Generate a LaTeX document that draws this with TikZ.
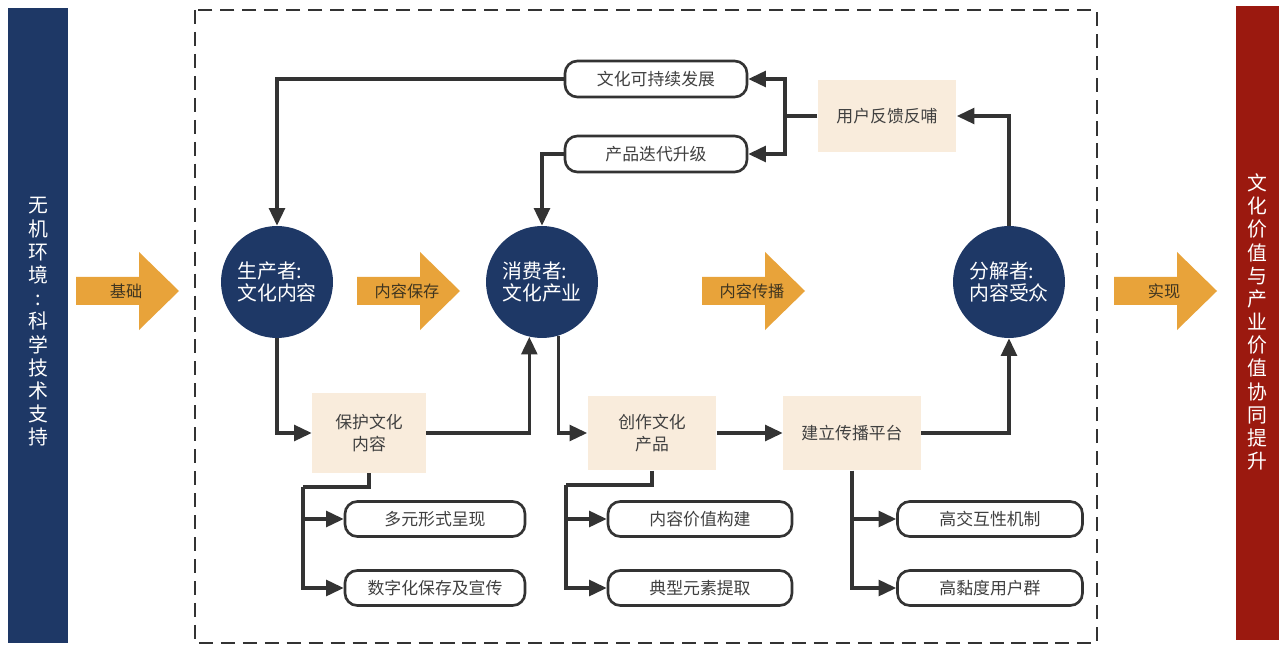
\documentclass[tikz,border=0pt]{standalone}
\usepackage{fontspec}
\setmainfont{Noto Sans CJK SC}
\usetikzlibrary{arrows.meta}
\definecolor{navy}{HTML}{1E3866}
\definecolor{darkred}{HTML}{9B190F}
\definecolor{orangec}{HTML}{E8A33A}
\definecolor{beigec}{HTML}{F9ECDC}
\definecolor{linec}{HTML}{333333}
\definecolor{textc}{HTML}{404040}
\definecolor{arrowtext}{HTML}{3F3520}
\newcommand\bigarr[3]{%
  \fill[orangec] (#1,277) -- ({#1+63},277) -- ({#1+63},252) -- ({#1+103},291) -- ({#1+63},330) -- ({#1+63},305) -- (#1,305) -- cycle;
  \node[flowtext] (#2) at ({#1+50},291) {#3};}
\begin{document}
\begin{tikzpicture}[x=0.02cm,y=-0.02cm,
  conn/.style={draw=linec, line width=1.8pt},
  arr/.style={conn, -{Triangle[length=10pt,width=9pt]}},
  pill/.style={draw=linec, line width=1.5pt, rounded corners=7pt, fill=white, text=textc,
    font=\fontsize{9.6pt}{12pt}\selectfont, inner sep=0pt, minimum height=0.7cm},
  beigebox/.style={fill=beigec, text=textc, align=center, inner sep=0pt,
    font=\fontsize{9.6pt}{12.5pt}\selectfont},
  role/.style={circle, fill=navy, minimum size=2.24cm, inner sep=0pt, text=white, align=left,
    font=\fontsize{11.3pt}{13pt}\selectfont},
  side/.style={text=white, align=center, inner sep=0pt, font=\fontsize{11.3pt}{13.2pt}\selectfont},
  flowtext/.style={text=arrowtext, font=\fontsize{9.2pt}{11pt}\selectfont, inner sep=0pt}
]
\useasboundingbox (0,0) rectangle (1285,645);
\fill[white] (0,0) rectangle (1285,645);

% side bars
\fill[navy] (8,8) rectangle (68,643);
\node[side] (lefttext) at (38,322) {无\\机\\环\\境\\:\\科\\学\\技\\术\\支\\持};
\fill[darkred] (1236,6) rectangle (1279,640);
\node[side] (righttext) at (1257,322) {文\\化\\价\\值\\与\\产\\业\\价\\值\\协\\同\\提\\升};

% dashed frame
\draw[linec, line width=1.4pt, dash pattern=on 8pt off 4.5pt] (195,10) rectangle (1097,643);

% big arrows
\bigarr{76}{aJichu}{基础}
\bigarr{357}{aBaocun}{内容保存}
\bigarr{702}{aChuanbo}{内容传播}
\bigarr{1114}{aShixian}{实现}

% circles
\node[role] (prod) at (277,282) {生产者:\\文化内容};
\node[role] (cons) at (542,282) {消费者:\\文化产业};
\node[role] (deco) at (1009,282) {分解者:\\内容受众};

% top boxes
\node[pill, minimum width=3.64cm, minimum height=0.72cm] (sust) at (656,79) {文化可持续发展};
\node[pill, minimum width=3.64cm, minimum height=0.72cm] (iter) at (656,154) {产品迭代升级};
\node[beigebox, minimum width=2.78cm, minimum height=1.46cm] (fb) at (887,116) {用户反馈反哺};

% middle beige boxes
\node[beigebox, minimum width=2.28cm, minimum height=1.6cm] (protect) at (369,433) {保护文化\\内容};
\node[beigebox, minimum width=2.58cm, minimum height=1.5cm] (create) at (652,433) {创作文化\\产品};
\node[beigebox, minimum width=2.76cm, minimum height=1.5cm] (platform) at (852,433) {建立传播平台};

% bottom pills
\node[pill, minimum width=3.6cm] (d1) at (435,519) {多元形式呈现};
\node[pill, minimum width=3.6cm] (d2) at (435,588) {数字化保存及宣传};
\node[pill, minimum width=3.68cm] (c1) at (700,519) {内容价值构建};
\node[pill, minimum width=3.68cm] (c2) at (700,588) {典型元素提取};
\node[pill, minimum width=3.7cm] (p1) at (990,519) {高交互性机制};
\node[pill, minimum width=3.7cm] (p2) at (990,588) {高黏度用户群};

% feedback connectors
\coordinate (jn) at (785,116);
\draw[conn] (fb.west) -- (jn);
\draw[arr] (jn) |- (sust.east);
\draw[arr] (jn) |- (iter.east);
\draw[arr] (deco.north) |- (fb.east);
\draw[arr] (sust.west) -| (prod.north);
\draw[arr] (iter.west) -| (cons.north);

% main flow
\draw[arr] (prod.south) |- (protect.west);
\draw[arr] (protect.east) -| (cons.-103);
\draw[arr] (cons.-73) |- (create.west);
\draw[arr] (create.east) -- (platform.west);
\draw[arr] (platform.east) -| (deco.south);

% sub trees
\coordinate (pa) at (303,487);
\draw[conn] (protect.south) |- (pa);
\draw[arr] (pa) |- (d1.west);
\draw[arr] (pa) |- (d2.west);
\coordinate (ca) at (566,485);
\draw[conn] (create.south) |- (ca);
\draw[arr] (ca) |- (c1.west);
\draw[arr] (ca) |- (c2.west);
\draw[arr] (platform.south) |- (p1.west);
\draw[arr] (platform.south) |- (p2.west);
\end{tikzpicture}
\end{document}
